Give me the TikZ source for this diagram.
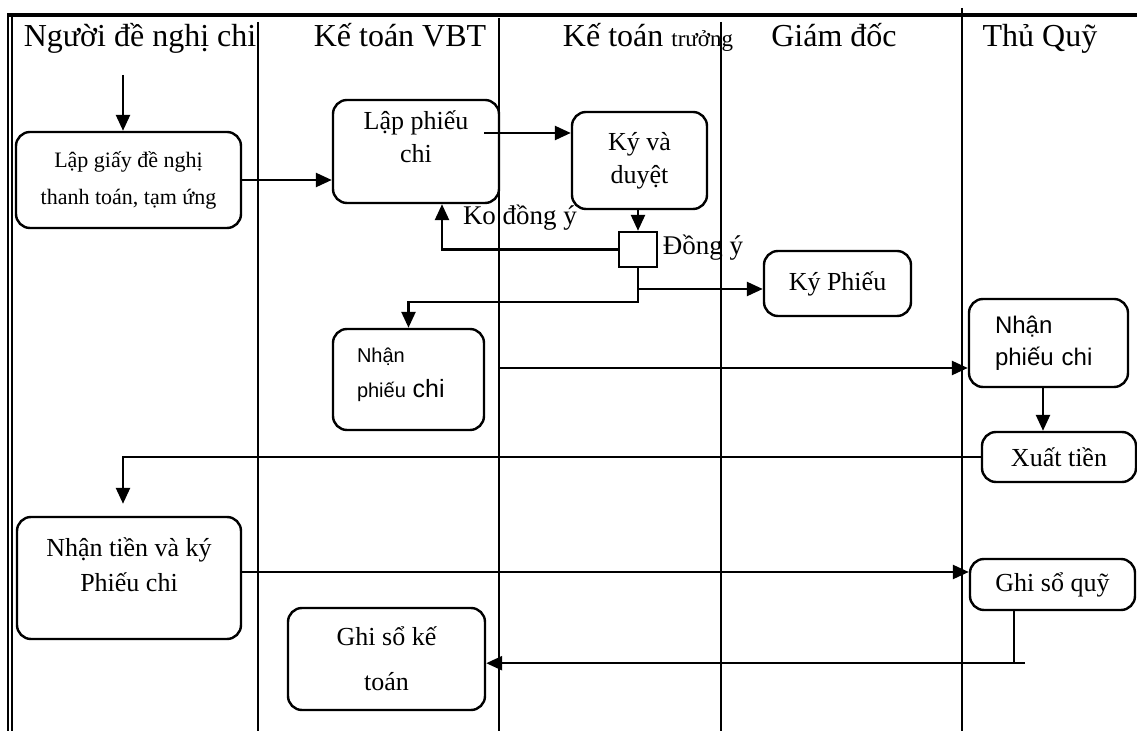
\documentclass[tikz,border=0pt]{standalone}
\usepackage{fontspec}
\setmainfont{Liberation Serif}
\newfontfamily\arialfont{Liberation Sans}
\usetikzlibrary{positioning, calc, arrows.meta}

\begin{document}
\begin{tikzpicture}[x=0.5pt, y=-0.5pt,
        box/.style={draw, line width=1.2pt, rounded corners=7pt, inner sep=0pt, align=center,
            font=\fontsize{13}{16.5}\selectfont},
        lane/.style={line width=0.9pt},
        arr/.style={line width=1.25pt, -{Triangle[length=8pt,width=7pt]}},
        conn/.style={line width=1.25pt},
        head/.style={anchor=base, font=\fontsize{16}{18}\selectfont},
        lbl/.style={font=\fontsize{13.5}{16}\selectfont}]

        \useasboundingbox (0,0) rectangle (1137,731);

        % frame and lanes
        \draw[line width=1.7pt] (7,15) -- (1137,15);
        \draw[line width=1.1pt] (8,14) -- (8,731);
        \draw[line width=0.7pt] (12,17) -- (12,731);
        \foreach \x/\y in {258/22, 499/18, 721/22, 962/8}
            \draw[lane] (\x,\y) -- (\x,731);

        % lane titles
        \node[head] (h1) at (140,47) {Người đề nghị chi};
        \node[head] (h2) at (400,47) {Kế toán VBT};
        \node[head] (h3) at (648,47) {Kế toán {\fontsize{11.5}{13}\selectfont trưởng}};
        \node[head] (h4) at (834,47) {Giám đốc};
        \node[head] (h5) at (1040,47) {Thủ Quỹ};

        % steps
        \coordinate (start) at (123,75);
        \node[box, minimum width=112.5pt, minimum height=48pt, font=\fontsize{11}{18.5}\selectfont] (lapgiay) at (128.5,180) {Lập giấy đề nghị\\thanh toán, tạm ứng};
        \node[box, minimum width=83pt, minimum height=51.5pt] (lapphieu) at (416,151.5) {Lập phiếu\\chi\\[-1.5pt]\mbox{}};
        \node[box, minimum width=67.5pt, minimum height=48.5pt] (kyduyet) at (639.5,160.5) {Ký và\\duyệt};
        \node[draw, line width=1.2pt, minimum width=19pt, minimum height=17.5pt, inner sep=0pt] (dec) at (638,249.5) {};
        \node[box, minimum width=73.5pt, minimum height=32.5pt] (kyphieu) at (837.5,283.5) {Ký Phiếu};
        \node[box, minimum width=75.5pt, minimum height=50.5pt, align=left, inner xsep=12pt, text width=51.5pt,
            font=\arialfont\fontsize{10}{17.5}\selectfont] (npc1) at (408.5,379.5) {Nhận\\phiếu {\fontsize{12.5}{17.5}\selectfont chi}\\[-10.5pt]\mbox{}};
        \node[box, minimum width=79.5pt, minimum height=44pt, align=left, inner xsep=13pt, text width=53.5pt,
            font=\arialfont\fontsize{12}{16}\selectfont] (npc2) at (1048.5,343) {Nhận\\phiếu chi};
        \node[box, minimum width=77pt, minimum height=25pt] (xuat) at (1059,457) {Xuất tiền};
        \node[box, minimum width=112pt, minimum height=61pt, font=\fontsize{13}{17.5}\selectfont] (ntien) at (129,578) {Nhận tiền và ký\\Phiếu chi\\[-4.5pt]\mbox{}};
        \node[box, minimum width=82.5pt, minimum height=25.5pt] (gsq) at (1052.5,584.5) {Ghi sổ quỹ};
        \node[box, minimum width=98.5pt, minimum height=51pt, font=\fontsize{13}{22.5}\selectfont] (gskt) at (386.5,659) {Ghi sổ kế\\toán};

        % decision labels
        \node[lbl] (ko) at (520,218) {Ko đồng ý};
        \node[lbl] (dy) at (703,248) {Đồng ý};

        % flow
        \draw[arr] (start) -- (start |- lapgiay.north);
        \draw[arr] (lapgiay.east) -- (lapgiay.east -| lapphieu.west);
        \draw[arr] ($(lapphieu.east)+(-16,-18.5)$) coordinate (a1) -- (a1 -| kyduyet.west);
        \draw[arr] (dec.north |- kyduyet.south) -- (dec.north);
        \draw[arr] (dec.west) -| ([xshift=13pt]lapphieu.south);
        \draw[arr] (dec.south) |- ([yshift=-2.75pt]kyphieu.west);
        \draw[arr] (dec.south) -- ++(0,34) -| (npc1.north);
        \draw[arr] ([xshift=7.5pt,yshift=5.75pt]npc1.east) coordinate (a2) -- (a2 -| npc2.west);
        \draw[arr] ([xshift=-2.75pt]npc2.south) coordinate (a3) -- (a3 |- xuat.north);
        \draw[arr] (xuat.west) -| ([xshift=-3pt,yshift=6pt]ntien.north);
        \draw[arr] ([yshift=3pt]ntien.east) coordinate (a4) -- (a4 -| gsq.west);
        \coordinate (c1) at ($(gsq.south)+(-38.5,52)$);
        \draw[conn] (c1 |- gsq.south) -- (c1);
        \draw[arr] ($(c1)+(11,0)$) -- (c1 -| gskt.east);
    \end{tikzpicture}
\end{document}
